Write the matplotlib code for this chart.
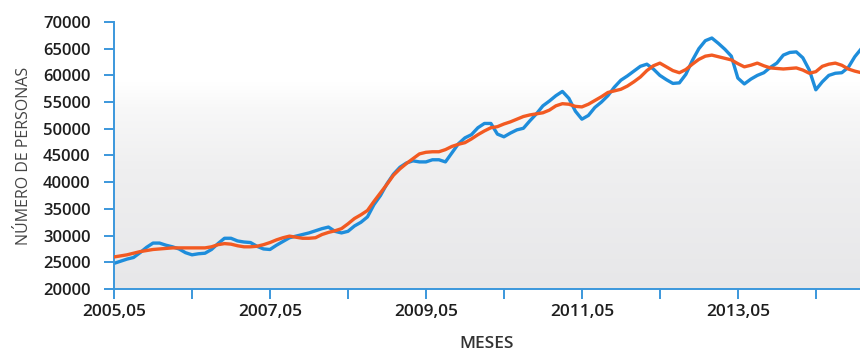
import numpy as np
import matplotlib.pyplot as plt
from matplotlib.colors import LinearSegmentedColormap

# Monthly series, May 2005 onwards
ocupados = [24800, 25200, 25600, 25900, 26800, 27800, 28600, 28600, 28200, 27900,
            27500, 26800, 26400, 26600, 26700, 27400, 28500, 29500, 29500, 29000,
            28800, 28700, 28000, 27500, 27400, 28200, 28900, 29600, 29900, 30200,
            30500, 30900, 31300, 31600, 30800, 30500, 30800, 31800, 32500, 33500,
            35800, 37500, 39700, 41500, 42800, 43600, 44000, 43800, 43800, 44200,
            44200, 43800, 45500, 47200, 48300, 48900, 50200, 51000, 51000, 49000,
            48500, 49200, 49800, 50100, 51500, 52800, 54300, 55200, 56200, 57000,
            55700, 53300, 51800, 52500, 54000, 55000, 56200, 57800, 59100, 59900,
            60800, 61700, 62100, 61200, 60000, 59200, 58500, 58600, 60200, 62800,
            65000, 66500, 67000, 66000, 64900, 63600, 59500, 58400, 59300, 60000,
            60500, 61500, 62300, 63800, 64300, 64400, 63300, 61000, 57300, 58800,
            60000, 60400, 60500, 61500, 63500, 65000]

tendencia = [26000, 26200, 26400, 26700, 27000, 27200, 27400, 27500, 27600, 27700,
             27700, 27700, 27700, 27700, 27700, 27900, 28300, 28500, 28400, 28100,
             27900, 27900, 28000, 28300, 28700, 29200, 29600, 29900, 29700, 29500,
             29500, 29600, 30200, 30600, 30900, 31300, 32200, 33200, 33900, 34700,
             36400, 38000, 39600, 41300, 42500, 43500, 44400, 45300, 45600, 45700,
             45700, 46100, 46700, 47100, 47400, 48100, 48900, 49600, 50200, 50400,
             50900, 51300, 51800, 52300, 52600, 52800, 53000, 53500, 54300, 54700,
             54600, 54200, 54100, 54600, 55300, 56000, 56800, 57100, 57400, 58000,
             58800, 59700, 60900, 61800, 62300, 61600, 60900, 60500, 61100, 62100,
             63000, 63600, 63800, 63500, 63200, 62900, 62200, 61600, 61900, 62300,
             61800, 61400, 61300, 61200, 61300, 61400, 61000, 60400, 60700, 61700,
             62100, 62300, 61900, 61200, 60800, 60500]

etiquetas = ["2005,05", "", "2007,05", "", "2009,05", "", "2011,05", "", "2013,05", ""]

meses = np.arange(len(ocupados))
azul = "#1e8ddb"
naranja = "#f25a22"
eje = "#3b97dc"

plt.rcParams["font.family"] = ["Open Sans", "DejaVu Sans"]

fig = plt.figure(figsize=(8.6, 3.53), dpi=100)
ax = fig.add_axes([0.1326, 0.1813, 0.8674, 0.7564])

# background: white on top fading to light grey at the bottom
fondo = LinearSegmentedColormap.from_list(
    "fondo", [(0, "#e7e7e9"), (0.45, "#efeff0"), (0.68, "#f8f8f8"), (0.77, "#ffffff"), (1, "#ffffff")])
grad = np.linspace(0, 1, 256).reshape(-1, 1)
ax.imshow(grad, cmap=fondo, aspect="auto", origin="lower",
          extent=[0, 1, 0, 1], transform=ax.transAxes, zorder=0)

ax.plot(meses, ocupados, color=azul, lw=2.4, solid_joinstyle="round", zorder=2)
ax.plot(meses, tendencia, color=naranja, lw=2.4, solid_joinstyle="round", zorder=3)

ax.set_xlim(0, 114.8)
ax.set_ylim(20000, 70000)
ax.set_yticks(np.arange(20000, 70001, 5000))
ax.set_yticklabels([str(v) for v in range(20000, 70001, 5000)], fontweight="semibold")
ax.set_xticks(np.arange(0, 120, 12))
ax.set_xticklabels(etiquetas, fontweight="semibold")

for s in ["top", "right"]:
    ax.spines[s].set_visible(False)
for s in ["left", "bottom"]:
    ax.spines[s].set_color(eje)
    ax.spines[s].set_linewidth(1.4)

ax.tick_params(axis="both", colors=eje, length=7, width=1.4, direction="out")
ax.tick_params(axis="y", labelcolor="#1e1e1e", labelsize=12, pad=10)
ax.tick_params(axis="x", labelcolor="#1e1e1e", labelsize=12.5, pad=4)

ax.set_ylabel("NÚMERO DE PERSONAS", fontsize=11.5, color="#444444", labelpad=8)
ax.set_xlabel("MESES", fontsize=12.5, color="#333333", fontweight="semibold", labelpad=11)

plt.savefig("out.png", dpi=100)
